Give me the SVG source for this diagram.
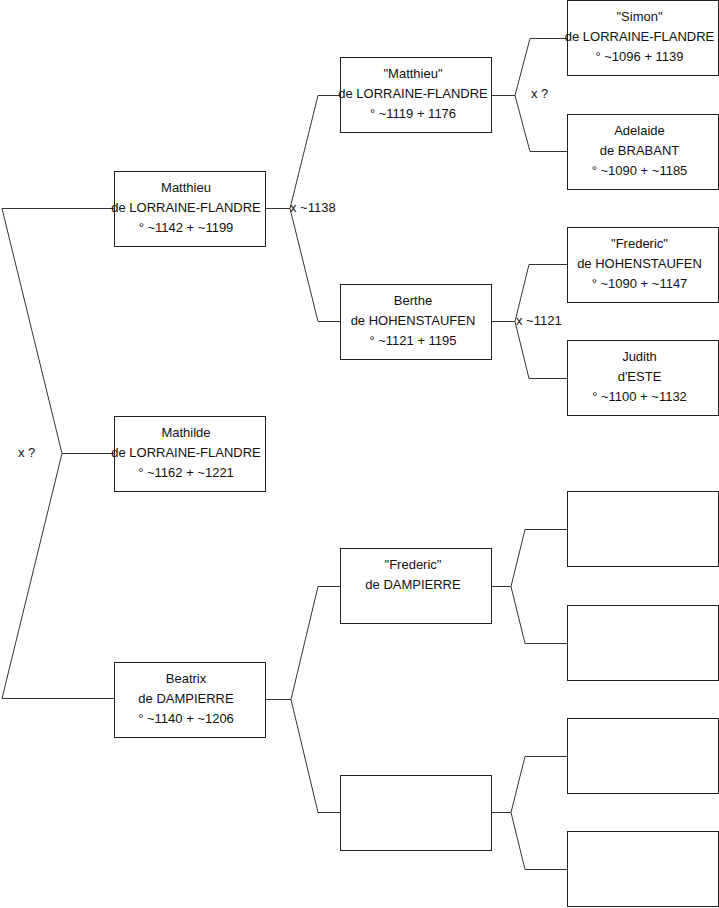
<svg xmlns="http://www.w3.org/2000/svg" width="719" height="908" viewBox="0 0 719 908">
<style>
.box{fill:#fff;stroke:#222;stroke-width:1}
.c{fill:none;stroke:#333;stroke-width:1}
text{font-family:"Liberation Sans",Arial,sans-serif;font-size:13px;fill:#111}
.n text{text-anchor:middle}
</style>
<rect width="719" height="908" fill="#fff"/>
<g id="connectors">
<polyline class="c" points="114,208.5 2,208.5 62,453.5 2,698.5 114,698.5"/>
<line class="c" x1="62" y1="453.5" x2="114" y2="453.5"/>
<line class="c" x1="265" y1="208.5" x2="290" y2="208.5"/>
<polyline class="c" points="341,95.5 318,95.5 290,208.5 318,321.5 341,321.5"/>
<line class="c" x1="265" y1="699.5" x2="291" y2="699.5"/>
<polyline class="c" points="341,586.5 318,586.5 291,699.5 318,812.5 341,812.5"/>
<line class="c" x1="492" y1="95.5" x2="515" y2="95.5"/>
<polyline class="c" points="567,38.5 530,38.5 515,95.5 530,151.5 567,151.5"/>
<line class="c" x1="492" y1="321.5" x2="515" y2="321.5"/>
<polyline class="c" points="567,264.5 529,264.5 515,321.5 529,378.5 567,378.5"/>
<line class="c" x1="492" y1="586.5" x2="511" y2="586.5"/>
<polyline class="c" points="567,529.5 525,529.5 511,586.5 525,643.5 567,643.5"/>
<line class="c" x1="492" y1="812.5" x2="511" y2="812.5"/>
<polyline class="c" points="567,756.5 525,756.5 511,812.5 525,869.5 567,869.5"/>
<text x="18" y="457">x ?</text>
<text x="290" y="212">x ~1138</text>
<text x="531" y="97.5">x ?</text>
<text x="516" y="325">x ~1121</text>
</g>
<g id="matthieu" class="n">
<rect class="box" x="114.5" y="171.5" width="151" height="75"/>
<text x="186" y="191.5">Matthieu</text>
<text x="186" y="211.5">de LORRAINE-FLANDRE</text>
<text x="186" y="231.5">° ~1142 + ~1199</text>
</g>
<g id="mathilde" class="n">
<rect class="box" x="114.5" y="416.5" width="151" height="75"/>
<text x="186" y="436.5">Mathilde</text>
<text x="186" y="456.5">de LORRAINE-FLANDRE</text>
<text x="186" y="476.5">° ~1162 + ~1221</text>
</g>
<g id="beatrix" class="n">
<rect class="box" x="114.5" y="662.5" width="151" height="75"/>
<text x="186" y="682.5">Beatrix</text>
<text x="186" y="702.5">de DAMPIERRE</text>
<text x="186" y="722.5">° ~1140 + ~1206</text>
</g>
<g id="matthieu2" class="n">
<rect class="box" x="340.5" y="57.5" width="151" height="75"/>
<text x="413" y="77.5">"Matthieu"</text>
<text x="413" y="97.5">de LORRAINE-FLANDRE</text>
<text x="413" y="117.5">° ~1119 + 1176</text>
</g>
<g id="berthe" class="n">
<rect class="box" x="340.5" y="284.5" width="151" height="75"/>
<text x="413" y="304.5">Berthe</text>
<text x="413" y="324.5">de HOHENSTAUFEN</text>
<text x="413" y="344.5">° ~1121 + 1195</text>
</g>
<g id="frederic-dampierre" class="n">
<rect class="box" x="340.5" y="548.5" width="151" height="75"/>
<text x="413" y="568.5">"Frederic"</text>
<text x="413" y="588.5">de DAMPIERRE</text>
</g>
<g id="unknown-1" class="n">
<rect class="box" x="340.5" y="775.5" width="151" height="75"/>
</g>
<g id="simon" class="n">
<rect class="box" x="567.5" y="0.5" width="151" height="75"/>
<text x="639.5" y="20.5">"Simon"</text>
<text x="639.5" y="40.5">de LORRAINE-FLANDRE</text>
<text x="639.5" y="60.5">° ~1096 + 1139</text>
</g>
<g id="adelaide" class="n">
<rect class="box" x="567.5" y="114.5" width="151" height="75"/>
<text x="639.5" y="134.5">Adelaide</text>
<text x="639.5" y="154.5">de BRABANT</text>
<text x="639.5" y="174.5">° ~1090 + ~1185</text>
</g>
<g id="frederic-hohenstaufen" class="n">
<rect class="box" x="567.5" y="227.5" width="151" height="75"/>
<text x="639.5" y="247.5">"Frederic"</text>
<text x="639.5" y="267.5">de HOHENSTAUFEN</text>
<text x="639.5" y="287.5">° ~1090 + ~1147</text>
</g>
<g id="judith" class="n">
<rect class="box" x="567.5" y="340.5" width="151" height="75"/>
<text x="639.5" y="360.5">Judith</text>
<text x="639.5" y="380.5">d'ESTE</text>
<text x="639.5" y="400.5">° ~1100 + ~1132</text>
</g>
<g id="unknown-2" class="n"><rect class="box" x="567.5" y="491.5" width="151" height="75"/></g>
<g id="unknown-3" class="n"><rect class="box" x="567.5" y="605.5" width="151" height="75"/></g>
<g id="unknown-4" class="n"><rect class="box" x="567.5" y="718.5" width="151" height="75"/></g>
<g id="unknown-5" class="n"><rect class="box" x="567.5" y="831.5" width="151" height="75"/></g>
</svg>
